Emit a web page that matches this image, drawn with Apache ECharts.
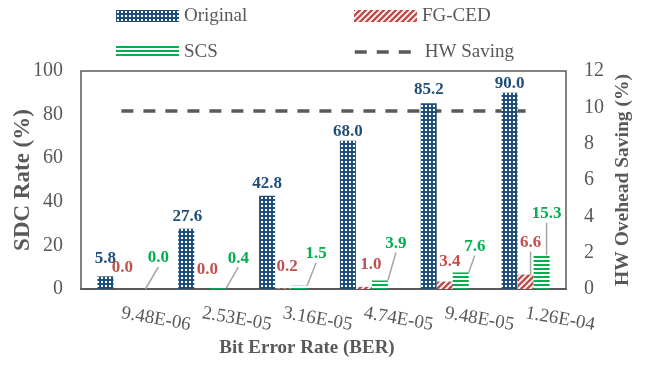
<!DOCTYPE html>
<html>
<head>
<meta charset="utf-8">
<script src="https://cdn.jsdelivr.net/npm/echarts@6/dist/echarts.min.js"></script>
<style>
html,body{margin:0;padding:0;background:#fff;}
#chart{width:649px;height:374px;}
</style>
</head>
<body>
<div id="chart"></div>
<script>
// ---- data ----
const categories = ['9.48E-06', '2.53E-05', '3.16E-05', '4.74E-05', '9.48E-05', '1.26E-04'];
const originalValues = [5.8, 27.6, 42.8, 68.0, 85.2, 90.0];
const fgcedValues = [0.0, 0.0, 0.2, 1.0, 3.4, 6.6];
const scsValues = [0.0, 0.4, 1.5, 3.9, 7.6, 15.3];
const hwSavingValues = [9.8, 9.8, 9.8, 9.8, 9.8, 9.8];
const leftAxis = { min: 0, max: 100, interval: 20 };
const rightAxis = { min: 0, max: 12, interval: 2 };

// ---- styling ----
const FONT = "'Liberation Serif', 'Times New Roman', serif";
const GRAY = '#595959';
const BLUE = '#1F4E79';
const RED = '#C0504D';
const GREEN = '#00B050';

function makePattern(w, h, draw) {
  const c = document.createElement('canvas');
  c.width = w; c.height = h;
  const ctx = c.getContext('2d');
  draw(ctx, w, h);
  return { image: c, repeat: 'repeat' };
}
const originalPattern = makePattern(4, 4, (ctx) => {
  ctx.fillStyle = BLUE; ctx.fillRect(0, 0, 4, 4);
  ctx.fillStyle = '#ffffff'; ctx.fillRect(1, 1, 2, 2);
});
const fgPattern = makePattern(6, 6, (ctx) => {
  ctx.fillStyle = '#ffffff'; ctx.fillRect(0, 0, 6, 6);
  ctx.strokeStyle = RED; ctx.lineWidth = 2.6;
  [[-3, 3, 3, -3], [0, 6, 6, 0], [3, 9, 9, 3]].forEach(([a, b, c, d]) => {
    ctx.beginPath(); ctx.moveTo(a, b); ctx.lineTo(c, d); ctx.stroke();
  });
});
const scsPattern = makePattern(4, 4, (ctx) => {
  ctx.fillStyle = '#ffffff'; ctx.fillRect(0, 0, 4, 4);
  ctx.fillStyle = GREEN; ctx.fillRect(0, 0, 4, 2);
});

// label offsets (layout only)
const origOffset = { dx: [0, 1, 0, 0, 0, 0], dy: [-9, -3, -3, 0, -5, 0] };
const fgOffset = { dx: [1, 5, 4, 7, 5, 5], dy: [-12, -10, -13, -13, -11, -23] };
const scsOffset = { dx: [21, 20, 17, 16, 14, 5], dy: [-22, -21, -23, -28, -17, -33] };

function labelCfg(color) {
  return {
    show: true, position: 'top', distance: 0,
    color: color, fontFamily: FONT, fontWeight: 'bold', fontSize: 17, lineHeight: 18,
    formatter: (p) => Number(p.value).toFixed(1)
  };
}
const guide = { show: true, lineStyle: { color: '#A6A6A6', width: 1.5 } };

const fgData = fgcedValues.map((v, i) => (fgOffset.dy[i] < -20 ? { value: v, labelLine: guide } : v));

const legendText = { color: GRAY, fontFamily: FONT, fontSize: 19, lineHeight: 20 };
const legendBase = { padding: 0, itemWidth: 63, itemHeight: 12, icon: 'rect', textStyle: legendText };

const chart = echarts.init(document.getElementById('chart'), null, { renderer: 'canvas' });
chart.setOption({
  backgroundColor: '#ffffff',
  animation: false,
  legend: [
    Object.assign({}, legendBase, { left: 116, top: 6, data: ['Original'] }),
    Object.assign({}, legendBase, { left: 354, top: 6, data: ['FG-CED'] }),
    Object.assign({}, legendBase, { left: 116, top: 42, data: ['SCS'] }),
    {
      padding: 0, left: 353, top: 42, itemWidth: 56, itemHeight: 12,
      textStyle: Object.assign({}, legendText, { padding: [0, 0, 0, 9] }),
      lineStyle: { color: GRAY, width: 3.5, type: [12, 10] },
      itemStyle: { opacity: 0, borderWidth: 0 },
      data: ['HW Saving']
    }
  ],
  grid: {
    left: 81, right: 83, top: 71, bottom: 85,
    show: true, borderColor: GRAY, borderWidth: 1.5, backgroundColor: 'transparent',
    outerBoundsMode: 'none'
  },
  xAxis: {
    type: 'category', data: categories,
    axisLine: { show: true, lineStyle: { color: GRAY, width: 2 } },
    axisTick: { show: false },
    axisLabel: { rotate: -10, margin: 24, color: GRAY, fontFamily: FONT, fontSize: 19, interval: 0 },
    name: 'Bit Error Rate (BER)', nameLocation: 'middle', nameGap: 50, nameMoveOverlap: false,
    nameTextStyle: { color: GRAY, fontFamily: FONT, fontSize: 19, fontWeight: 'bold', padding: [0, 33, 0, 0] }
  },
  yAxis: [
    {
      type: 'value', min: leftAxis.min, max: leftAxis.max, interval: leftAxis.interval,
      axisLine: { show: false }, axisTick: { show: false }, splitLine: { show: false },
      axisLabel: { margin: 18, color: GRAY, fontFamily: FONT, fontSize: 20 },
      name: 'SDC Rate (%)', nameLocation: 'middle', nameGap: 46, nameMoveOverlap: false,
      nameTextStyle: { color: GRAY, fontFamily: FONT, fontSize: 23, fontWeight: 'bold' }
    },
    {
      type: 'value', min: rightAxis.min, max: rightAxis.max, interval: rightAxis.interval,
      axisLine: { show: false }, axisTick: { show: false }, splitLine: { show: false },
      axisLabel: { margin: 18, color: GRAY, fontFamily: FONT, fontSize: 20 },
      name: 'HW Ovehead Saving (%)', nameLocation: 'middle', nameGap: 47, nameMoveOverlap: false,
      nameTextStyle: { color: GRAY, fontFamily: FONT, fontSize: 19.5, fontWeight: 'bold' }
    }
  ],
  series: [
    {
      name: 'Original', type: 'bar', data: originalValues, barWidth: 16, barGap: '0%',
      itemStyle: { color: originalPattern },
      label: labelCfg(BLUE),
      labelLayout: (p) => ({ dx: origOffset.dx[p.dataIndex], dy: origOffset.dy[p.dataIndex] })
    },
    {
      name: 'FG-CED', type: 'bar', data: fgData, barWidth: 16, barGap: '0%',
      itemStyle: { color: fgPattern },
      label: labelCfg(RED),
      labelLayout: (p) => ({ dx: fgOffset.dx[p.dataIndex], dy: fgOffset.dy[p.dataIndex] })
    },
    {
      name: 'SCS', type: 'bar', data: scsValues, barWidth: 16, barGap: '0%',
      itemStyle: { color: scsPattern },
      label: labelCfg(GREEN),
      labelLine: guide,
      labelLayout: (p) => ({ dx: scsOffset.dx[p.dataIndex], dy: scsOffset.dy[p.dataIndex] })
    },
    {
      name: 'HW Saving', type: 'line', yAxisIndex: 1, data: hwSavingValues,
      symbol: 'none', z: 1,
      lineStyle: { color: GRAY, width: 3.5, type: [12, 10] },
      itemStyle: { color: GRAY }
    }
  ]
});
</script>
</body>
</html>
